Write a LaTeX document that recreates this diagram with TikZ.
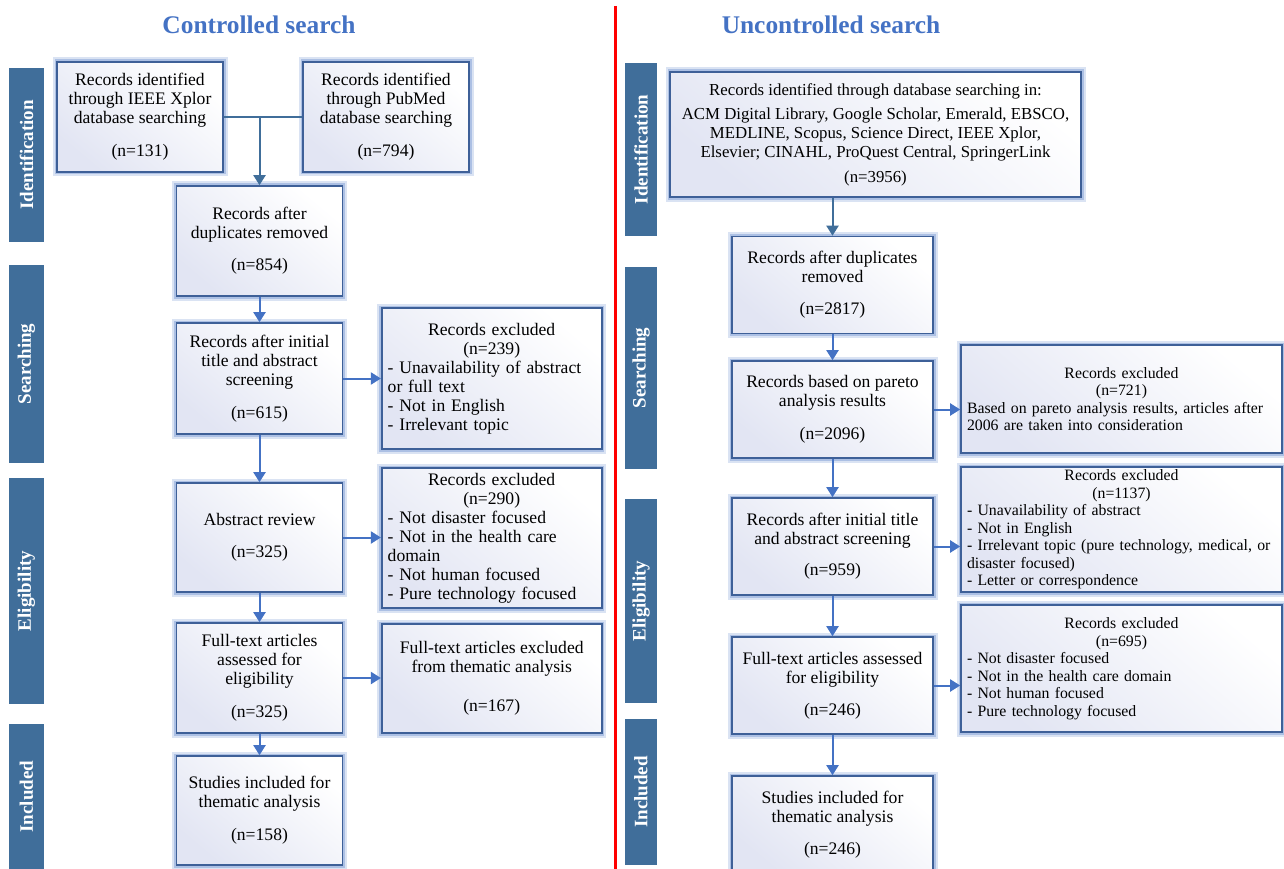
\documentclass[tikz,border=0pt]{standalone}
\usepackage{fontspec}
\setmainfont{Liberation Serif}
\usetikzlibrary{arrows.meta}
\definecolor{titleblue}{RGB}{68,114,196}
\definecolor{arrblue}{RGB}{68,114,196}
\definecolor{barblue}{RGB}{64,110,154}
\definecolor{boxline}{RGB}{62,96,152}
\definecolor{glowc}{RGB}{172,192,228}
\definecolor{boxfill}{RGB}{226,229,243}

\begin{document}
\begin{tikzpicture}
[x=1pt,y=-1pt,%
  box/.style={draw=boxline,line width=1.6pt,top color=white,bottom color=boxfill,shading angle=-40,%
    preaction={draw=glowc!45,line width=9pt},preaction={draw=glowc,line width=5pt},%
    align=center,inner sep=0pt,font=\fontsize{17.6}{19}\selectfont},%
  lbox/.style={box,minimum width=166pt},%
  rbox/.style={box,minimum width=201pt,minimum height=97pt},%
  xbox/.style={box,align=left,inner xsep=6pt},%
  ybox/.style={xbox,text width=309pt,font=\fontsize{15.8}{17.5}\selectfont},%
  phase/.style={rotate=90,fill=barblue,text=white,inner sep=0pt,%
    font=\fontsize{19}{19}\selectfont\bfseries},%
  heading/.style={text=titleblue,font=\fontsize{25.4}{28}\selectfont\bfseries},%
  arr/.style={draw=arrblue,line width=2pt,-{Triangle[length=10pt,width=12pt]}},%
  jline/.style={draw=barblue,line width=2pt}]
\useasboundingbox[fill=white] (0,0) rectangle (1284,869);

\draw[red,line width=3pt] (615,6) -- (615,869);

\node[heading] (ttlL) at (259,25) {Controlled search};
\node[heading] (ttlR) at (831,25) {Uncontrolled search};

\node[phase,minimum width=174pt,minimum height=35pt] (idL) at (26.5,155) {Identification};
\node[phase,minimum width=198pt,minimum height=35pt] (seL) at (26.5,364) {Searching};
\node[phase,minimum width=226pt,minimum height=35pt] (elL) at (26.5,591) {Eligibility};
\node[phase,minimum width=145pt,minimum height=35pt] (inL) at (26.5,796.5) {Included};
\node[phase,minimum width=173pt,minimum height=32pt] (idR) at (641,149.5) {Identification};
\node[phase,minimum width=202pt,minimum height=32pt] (seR) at (641,368) {Searching};
\node[phase,minimum width=204pt,minimum height=32pt] (elR) at (641,601) {Eligibility};
\node[phase,minimum width=146pt,minimum height=32pt] (inR) at (641,792) {Included};

\node[lbox,minimum height=110pt] (ieee) at (140,117)
  {Records identified\\through IEEE Xplor\\database searching\\[14pt](n=131)};
\node[lbox,minimum height=110pt] (pubmed) at (386,117)
  {Records identified\\through PubMed\\database searching\\[14pt](n=794)};
\node[lbox,minimum height=110pt] (dupL) at (259.5,241)
  {Records after\\duplicates removed\\[13pt](n=854)};
\node[lbox,minimum height=111pt] (screenL) at (259.5,378.5)
  {Records after initial\\title and abstract\\screening\\[14pt](n=615)};
\node[lbox,minimum height=109pt] (abstr) at (259.5,537.5)
  {Abstract review\\[13pt](n=325)};
\node[lbox,minimum height=110pt] (fullL) at (259.5,678)
  {Full-text articles\\assessed for\\eligibility\\[14pt](n=325)};
\node[lbox,minimum height=109pt] (inclL) at (259.5,810.5)
  {Studies included for\\thematic analysis\\[14pt](n=158)};
\node[xbox,text width=208pt,minimum height=141pt] (exA) at (491.7,378.5)
  {{\centering Records excluded\\(n=239)\par}- Unavailability of abstract\\or full text\\- Not in English\\- Irrelevant topic};
\node[xbox,text width=208pt,minimum height=140pt] (exB) at (491.7,538)
  {{\centering Records excluded\\(n=290)\par}- Not disaster focused\\- Not in the health care\\domain\\- Not human focused\\- Pure technology focused};
\node[box,minimum width=220pt,minimum height=109pt] (exC) at (491.7,678.5)
  {Full-text articles excluded\\from thematic analysis\\[20pt](n=167)};

\node[box,minimum width=411pt,minimum height=125pt,font=\fontsize{16.8}{19}\selectfont] (dbs) at (875.5,134.5)
  {Records identified through database searching in:\\[5pt]ACM Digital Library, Google Scholar, Emerald, EBSCO,\\MEDLINE, Scopus, Science Direct, IEEE Xplor,\\Elsevier; CINAHL, ProQuest Central, SpringerLink\\[6pt](n=3956)};
\node[rbox] (dupR) at (832.5,285)
  {Records after duplicates\\removed\\[13pt](n=2817)};
\node[rbox] (pareto) at (832.5,409.5)
  {Records based on pareto\\analysis results\\[14pt](n=2096)};
\node[rbox] (screenR) at (832.5,546.5)
  {Records after initial title\\and abstract screening\\[12pt](n=959)};
\node[rbox] (fullR) at (832.5,685.5)
  {Full-text articles assessed\\for eligibility\\[13pt](n=246)};
\node[rbox] (inclR) at (832.5,824.5)
  {Studies included for\\thematic analysis\\[13pt](n=246)};
\node[ybox,minimum height=108pt] (exD) at (1121.5,399)
  {{\centering Records excluded\\(n=721)\par}\mbox{Based on pareto analysis results, articles after}\\2006 are taken into consideration};
\node[ybox,minimum height=125pt] (exE) at (1121.5,529.5)
  {{\centering Records excluded\\(n=1137)\par}- Unavailability of abstract\\- Not in English\\\mbox{- Irrelevant topic (pure technology, medical, or}\\disaster focused)\\- Letter or correspondence};
\node[ybox,minimum height=127pt] (exF) at (1121.5,668.5)
  {{\centering Records excluded\\(n=695)\par}- Not disaster focused\\- Not in the health care domain\\- Not human focused\\- Pure technology focused};

\draw[jline] (ieee.east) -- (pubmed.west);
\draw[arr,draw=barblue] (ieee.east -| dupL.north) -- (dupL.north);
\draw[arr] (dupL) -- (screenL);
\draw[arr] (screenL) -- (abstr);
\draw[arr] (abstr) -- (fullL);
\draw[arr] (fullL) -- (inclL);
\draw[arr] (screenL.east) -- (screenL.east -| exA.west);
\draw[arr] (abstr.east) -- (abstr.east -| exB.west);
\draw[arr] (fullL.east) -- (fullL.east -| exC.west);

\draw[arr,draw=barblue] (dupR.north |- dbs.south) -- (dupR.north);
\draw[arr] (dupR) -- (pareto);
\draw[arr] (pareto) -- (screenR);
\draw[arr] (screenR) -- (fullR);
\draw[arr] (fullR) -- (inclR);
\draw[arr] (pareto.east) -- (pareto.east -| exD.west);
\draw[arr] (screenR.east) -- (screenR.east -| exE.west);
\draw[arr] (fullR.east) -- (fullR.east -| exF.west);
\end{tikzpicture}
\end{document}
